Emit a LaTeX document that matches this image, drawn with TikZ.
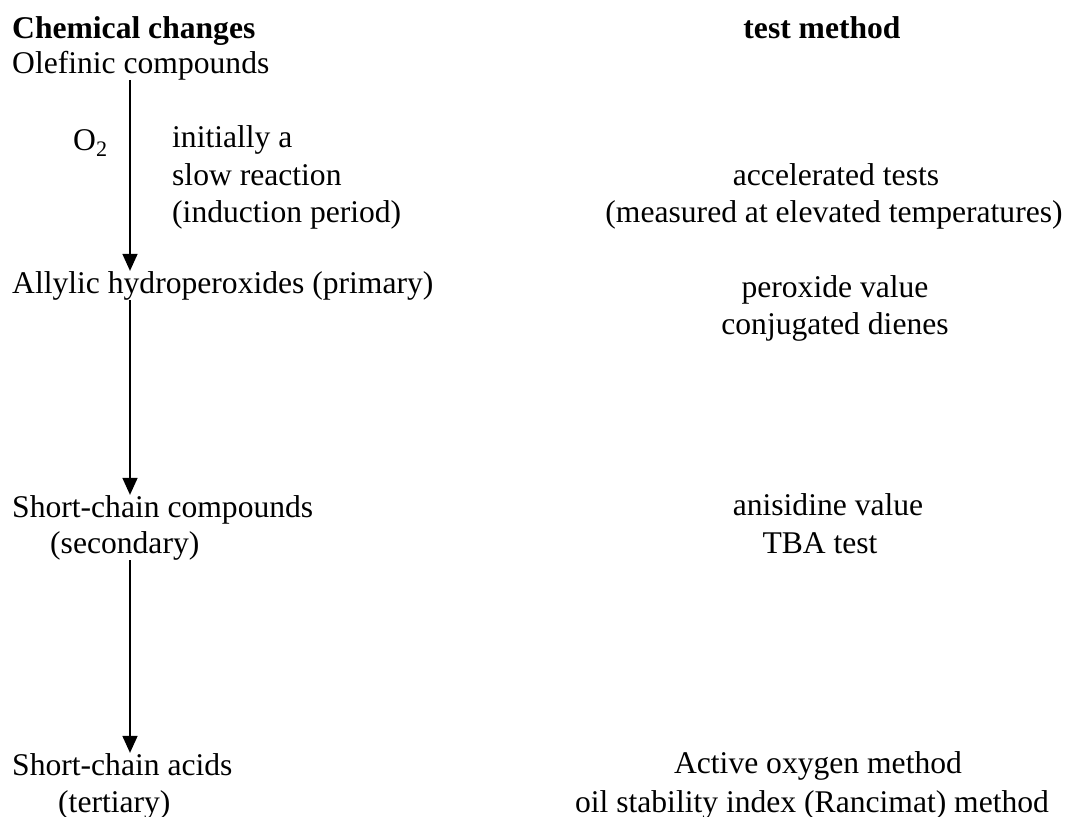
\documentclass[tikz,border=0pt]{standalone}
\usepackage{fontspec}
\setmainfont{Liberation Serif}
\usepackage{tikz}
\usetikzlibrary{arrows.meta, positioning}
\tikzstyle{reaction} = [line width=1.6pt, -{Triangle[length=17pt, width=15pt]}]

\begin{document}
\begin{tikzpicture}[
  x=1pt, y=-1pt,
  every node/.style={inner sep=0pt, font=\fontsize{31.6pt}{37pt}\selectfont},
  change/.style={anchor=base west},
  method/.style={anchor=base},
  heading/.style={font=\fontsize{31.6pt}{37pt}\selectfont\bfseries}
]
\useasboundingbox (0,0) rectangle (1069,817);

% Column headings
\node[change, heading] (headchem) at (12,38) {Chemical changes};
\node[method, heading] (headtest) at (822,38) {test method};

% Chemical changes (left column)
\node[change] (olefin) at (12,73) {Olefinic compounds};
\node[change] (oxygen) at (73,150) {O\textsubscript{2}};
\node[change] (slow1) at (172,147) {initially a};
\node[change] (slow2) at (172,185) {slow reaction};
\node[change] (slow3) at (172,222) {(induction period)};
\node[change] (allyl) at (12,293) {Allylic hydroperoxides (primary)};
\node[change] (short) at (12,517) {Short-chain compounds};
\node[change] (second) at (50,553) {(secondary)};
\node[change] (acids) at (12,775) {Short-chain acids};
\node[change] (third) at (58,812) {(tertiary)};

% Test methods (right column)
\node[method] (accel) at (836,185) {accelerated tests};
\node[method] (elev) at (834,222) {(measured at elevated temperatures)};
\node[method] (perox) at (835,297) {peroxide value};
\node[method] (diene) at (835,334) {conjugated dienes};
\node[method] (anis) at (828,515) {anisidine value};
\node[method] (tba) at (820,553) {TBA test};
\node[method] (aom) at (818,773) {Active oxygen method};
\node[method] (osi) at (812,812) {oil stability index (Rancimat) method};

% Reaction arrows
\coordinate (spine) at (130,0);
\draw[reaction] (olefin.south -| spine) -- (allyl.north -| spine);
\draw[reaction] (allyl.south -| spine) -- (short.north -| spine);
\draw[reaction] (second.south -| spine) -- (acids.north -| spine);
\end{tikzpicture}
\end{document}
